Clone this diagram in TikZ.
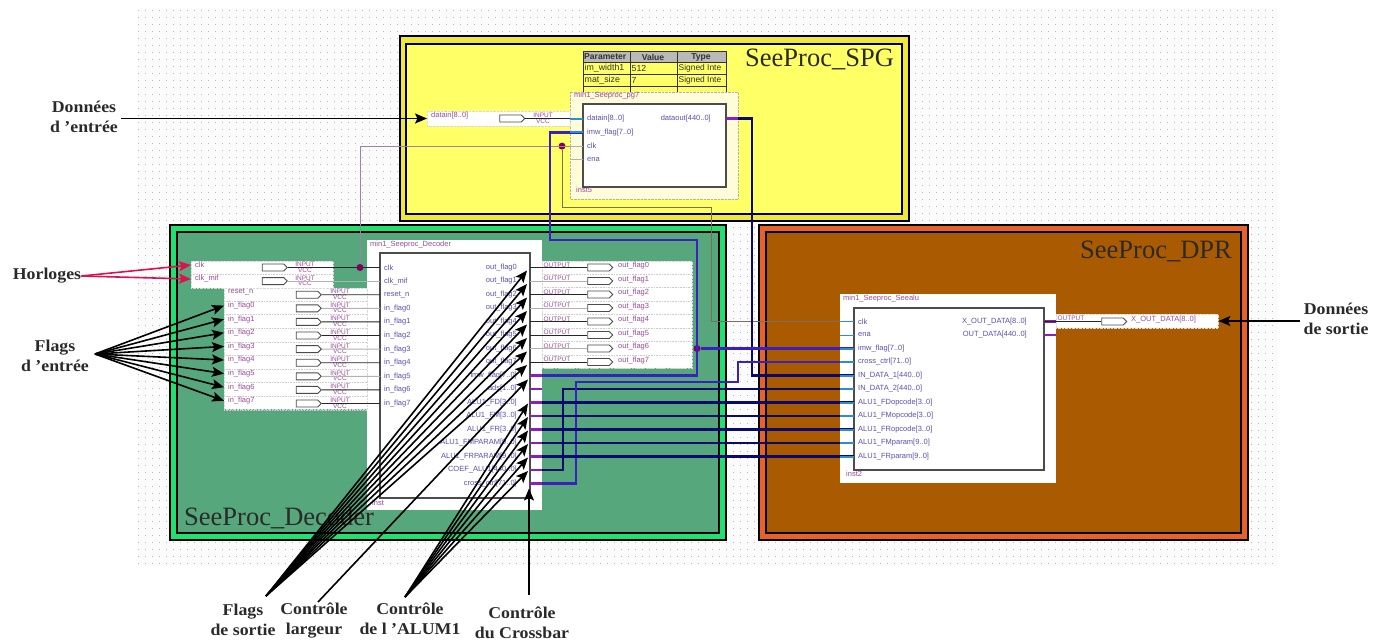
\documentclass[tikz,border=0pt]{standalone}
\usepackage{fontspec}
\setmainfont{Liberation Serif}
\newfontfamily\schfont{Liberation Sans}
\newfontfamily\notefont[FakeStretch=1.08]{Liberation Serif}
\usetikzlibrary{arrows.meta,shapes.symbols}
\definecolor{spgfill}{HTML}{FFFF66}
\definecolor{spgband}{HTML}{EFE83A}
\definecolor{decfill}{HTML}{57A77C}
\definecolor{decband}{HTML}{1FE070}
\definecolor{dprfill}{HTML}{AA5A00}
\definecolor{dprband}{HTML}{E8602A}
\definecolor{navywire}{HTML}{0A0A6E}
\definecolor{bluewire}{HTML}{3A20C0}
\definecolor{purplestub}{HTML}{8A20B8}
\definecolor{bluestub}{HTML}{2A90D0}
\definecolor{portcol}{HTML}{5A4FAF}
\definecolor{pincol}{HTML}{9A4A9A}
\definecolor{junctcol}{HTML}{800060}
\definecolor{clkcol}{HTML}{A080A8}
\definecolor{clkdown}{HTML}{7A7060}
\definecolor{notered}{HTML}{E01050}
\definecolor{notecol}{HTML}{2A2A2A}
\begin{document}
\begin{tikzpicture}[x=1pt,y=-1pt,
    frame/.style={draw=black,line width=2.7pt},
    griddots/.style={draw=gray!55,line width=1pt,dash pattern=on 1pt off 6pt},
    whitebox/.style={draw=gray!30,densely dotted,fill=white,inner sep=0pt,minimum width=#1},
    symbox/.style={draw=gray!60!black,line width=1.2pt,fill=white},
    title/.style={font=\fontsize{26.5}{28}\selectfont,text=notecol,inner sep=0pt},
    portl/.style={anchor=west,inner xsep=4pt,inner ysep=0pt,text=portcol,font=\schfont\fontsize{7.5}{8}\selectfont},
    portr/.style={anchor=east,inner ysep=0pt,text=portcol,font=\schfont\fontsize{7.5}{8}\selectfont},
    pinname/.style={anchor=west,inner xsep=4pt,inner ysep=0pt,text=pincol,font=\schfont\fontsize{7.5}{8}\selectfont},
    pintag/.style={inner sep=0pt,text=pincol,font=\schfont\fontsize{6.5}{7}\selectfont},
    pinbox/.style={shape=signal,signal to=east,draw=gray!60!black,line width=.9pt,fill=white,minimum width=25pt,minimum height=7pt,inner sep=0pt},
    darkwire/.style={draw=gray!30!black,line width=.9pt},
    lightwire/.style={draw=gray!60,line width=.9pt},
    navy/.style={draw=navywire,line width=2.6pt},
    blue/.style={draw=bluewire,line width=2.6pt},
    pstub/.style={draw=purplestub,line width=2.6pt},
    bstub/.style={draw=bluestub,line width=2pt},
    junct/.style={circle,fill=junctcol,inner sep=0pt,minimum size=7pt},
    rowsep/.style={draw=gray!40,densely dotted,line width=.6pt},
    note/.style={draw=black,line width=1.6pt,-{Stealth[length=12pt,width=10pt,inset=2.5pt]}},
    rednote/.style={draw=notered,line width=1.6pt,-{Stealth[length=12pt,width=10pt,inset=2.5pt]}},
    notetext/.style={align=center,text=notecol,inner sep=0pt,font=\notefont\bfseries\fontsize{16.5}{20}\selectfont},
    tabcell/.style={anchor=west,inner xsep=1.5pt,inner ysep=0pt,text=black!80,font=\schfont\fontsize{8.8}{9}\selectfont}]
  \useasboundingbox (0,0) rectangle (1373,641);
  \fill[gray!3] (138,8) rectangle (1278,566);
  \foreach \gy in {10,17,...,566}{\draw[griddots] (138,\gy) -- (1278,\gy);}
  % the three blocks
  \draw[frame,fill=spgband] (400,36) rectangle (909,221);
  \draw[frame,fill=spgfill] (406,44) rectangle (902,214);
  \draw[frame,fill=decband] (170,225) rectangle (726,540);
  \draw[frame,fill=decfill] (177,232) rectangle (719,533);
  \draw[frame,fill=dprband] (759,225) rectangle (1248,540);
  \draw[frame,fill=dprfill] (766,232) rectangle (1241,533);
  \node[title,anchor=west] (spgtitle) at (745,59) {SeeProc\_SPG};
  \node[title,anchor=west] (dectitle) at (184,518) {SeeProc\_Decoder};
  \node[title,anchor=west] (dprtitle) at (1080,251) {SeeProc\_DPR};
  % SPG symbol
  \fill[gray!55] (583,51) rectangle (726,62);
  \draw[gray!40!black,line width=1pt] (583,51) rectangle (726,92);
  \foreach \ty in {62,74,86}{\draw[gray!40!black,line width=1pt] (583,\ty) -- (726,\ty);}
  \foreach \tx in {630,677}{\draw[gray!40!black,line width=1pt] (\tx,51) -- (\tx,92);}
  \node[tabcell,font=\schfont\bfseries\fontsize{8.6}{9}\selectfont] (tabpar) at (582.5,57) {Parameter};
  \node[tabcell,anchor=center,font=\schfont\bfseries\fontsize{8.6}{9}\selectfont] (tabval) at (653,57) {Value};
  \node[tabcell,anchor=center,font=\schfont\bfseries\fontsize{8.6}{9}\selectfont] (tabtyp) at (701,57) {Type};
  \foreach \tname/\tval [count=\i from 0] in {im\_width1/512,mat\_size/7}{
    \node[tabcell] (tabn\i) at (583,{68.5+12*\i}) {\tname};
    \node[tabcell] (tabv\i) at (630,{68.5+12*\i}) {\tval};
    \node[tabcell,font=\schfont\fontsize{8.4}{9}\selectfont] (tabt\i) at (677,{68.5+12*\i}) {Signed Inte};
  }
  \path[draw=gray!60,densely dotted,fill=yellow!15] (570,92) rectangle (738,199);
  \draw[symbox] (583,104) rectangle (726,187);
  \node[pinname,inner xsep=0pt] (spgname) at (574,96) {min1\_Seeproc\_pg7};
  \node[pinname,inner xsep=0pt] (spginst) at (576,190) {inst5};
  \foreach \pname [count=\i from 0] in {datain[8..0],imw\_flag[7..0],clk,ena}{
    \node[portl] (spgl\i) at (583,{118.5+13.8*\i}) {\pname};
  }
  \node[portr,inner xsep=15pt] (spgout) at (726,118.5) {dataout[440..0]};
  \node[whitebox=143pt,minimum height=15pt,anchor=west] (datainbox) at (427,118.5) {};
  \node[pinname] (datainlab) at (427,116) {datain[8..0]};
  \node[pinbox] (spgpin) at (510.5,118.5) {};
  \node[pintag] (spginp) at (543,115.5) {INPUT};
  \node[pintag] (spgvcc) at (543,121) {VCC};
  % decoder symbol
  \fill[white] (367,240) rectangle (542,510);
  \draw[symbox] (380,253) rectangle (530,498);
  \node[pinname,inner xsep=0pt] (decname) at (370,245) {min1\_Seeproc\_Decoder};
  \node[pinname,inner xsep=0pt] (decinst) at (372,503) {inst};
  \foreach \pname [count=\i from 0] in {clk,clk\_mif,reset\_n,in\_flag0,in\_flag1,in\_flag2,in\_flag3,in\_flag4,in\_flag5,in\_flag6,in\_flag7}{
    \node[portl] (decl\i) at (380,{267.5+13.6*\i}) {\pname};
  }
  \foreach \pname [count=\i from 0] in {out\_flag0,out\_flag1,out\_flag2,out\_flag3,out\_flag4,out\_flag5,out\_flag6,out\_flag7,imw\_flag[7..0],ads[1..0],ALU1\_FD[3..0],ALU1\_FM[3..0],ALU1\_FR[3..0],ALU1\_FMPARAM[9..0],ALU1\_FRPARAM[9..0],COEF\_ALU1[440..0],cross\_ctrl[71..0]}{
    \node[portr,inner xsep=13pt] (decr\i) at (530,{267.5+13.5*\i}) {\pname};
  }
  % clock pins
  \node[whitebox=142pt,minimum height=27pt,anchor=north west] (clkbox) at (191,261) {};
  \draw[rowsep] (191,274.5) -- (333,274.5);
  \foreach \pname/\pwire [count=\i from 0] in {clk/darkwire,clk\_mif/lightwire}{
    \node[pinname] (clklab\i) at (191,{265+14*\i}) {\pname};
    \node[pinbox] (clkpin\i) at (273,{267.5+13.6*\i}) {};
    \node[pintag] (clkinp\i) at (305,{264.5+13.6*\i}) {INPUT};
    \node[pintag] (clkvcc\i) at (305,{270+13.6*\i}) {VCC};
    \draw[\pwire] (clkpin\i.east) -- (decl\i.west);
  }
  % flag pins
  \node[whitebox=143pt,minimum height=121pt,anchor=north west] (inbox) at (224,288) {};
  \foreach \pname/\pwire [count=\i from 0] in {reset\_n/darkwire,in\_flag0/lightwire,in\_flag1/darkwire,in\_flag2/darkwire,in\_flag3/lightwire,in\_flag4/darkwire,in\_flag5/lightwire,in\_flag6/darkwire,in\_flag7/darkwire}{
    \pgfmathtruncatemacro{\j}{\i+2}
    \node[pinname] (inlab\i) at (224,{292+13.6*\i}) {\pname};
    \node[pinbox] (inpin\i) at (307,{294.7+13.6*\i}) {};
    \node[pintag] (ininp\i) at (340,{291.5+13.6*\i}) {INPUT};
    \node[pintag] (invcc\i) at (340,{297+13.6*\i}) {VCC};
    \draw[rowsep] (224,{301+13.6*\i}) -- (367,{301+13.6*\i});
    \draw[\pwire] (inpin\i.east) -- (decl\j.west);
  }
  % output pins
  \node[whitebox=150pt,minimum height=107pt,anchor=north west] (outbox) at (542,261) {};
  \foreach \pwire [count=\i from 0] in {darkwire,lightwire,darkwire,lightwire,darkwire,darkwire,lightwire,darkwire}{
    \node[pinbox] (outpin\i) at (598.5,{267.5+13.5*\i}) {};
    \node[pintag] (outtag\i) at (557,{265+13.5*\i}) {OUTPUT};
    \node[pinname] (outlab\i) at (614,{266+13.5*\i}) {out\_flag\i};
    \draw[rowsep] (542,{274+13.5*\i}) -- (692,{274+13.5*\i});
    \draw[\pwire] (decr\i.east) -- (outpin\i.west);
  }
  % DPR symbol
  \fill[white] (840,294) rectangle (1056,483);
  \draw[symbox] (854,308) rectangle (1044,470);
  \node[pinname,inner xsep=0pt] (dprname) at (843,299) {min1\_Seeproc\_Seealu};
  \node[pinname,inner xsep=0pt] (dprinst) at (846,474) {inst2};
  \foreach \pname [count=\i from 0] in {clk,ena,imw\_flag[7..0],cross\_ctrl[71..0],IN\_DATA\_1[440..0],IN\_DATA\_2[440..0],ALU1\_FDopcode[3..0],ALU1\_FMopcode[3..0],ALU1\_FRopcode[3..0],ALU1\_FMparam[9..0],ALU1\_FRparam[9..0]}{
    \node[portl] (dprl\i) at (854,{321.5+13.5*\i}) {\pname};
  }
  \node[portr,inner xsep=17pt] (dprx) at (1044,321.5) {X\_OUT\_DATA[8..0]};
  \node[portr,inner xsep=17pt] (dprout) at (1044,335) {OUT\_DATA[440..0]};
  \node[whitebox=162pt,minimum height=14pt,anchor=west] (xoutbox) at (1056,321) {};
  \node[pinbox] (xoutpin) at (1112.5,321.5) {};
  \node[pintag] (xouttag) at (1071,318.5) {OUTPUT};
  \node[pinname] (xoutlab) at (1127,320) {X\_OUT\_DATA[8..0]};
  % wires
  \coordinate (bendspg) at (752,200);
  \coordinate (bendimwa) at (550,240);
  \coordinate (bendimwb) at (697,240);
  \coordinate (bendcoef) at (563,400);
  \coordinate (bendcra) at (576,382);
  \coordinate (bendcrb) at (738,382);
  \coordinate (bendclk) at (711,207);
  \node[junct] (jimw) at (697,348.5) {};
  \node[junct] (jclk) at (360,267.5) {};
  \node[junct] (jspg) at (562,146.1) {};
  \draw[darkwire] (spgpin.east) -- (datainbox.east);
  \draw[clkcol,line width=1pt] (jclk) |- (spgl2.west);
  \draw[clkdown,line width=1pt] (jspg) |- (bendclk) |- (dprl0.west);
  \draw[navy] (spgout.east) -| (bendspg) |- (dprl4.west);
  \draw[blue] (spgl1.west) -| (bendimwa) -- (bendimwb) |- (decr8.east);
  \draw[blue] (jimw) -- (dprl2.west);
  \draw[navy] (decr15.east) -| (bendcoef) |- (dprl5.west);
  \draw[blue] (decr16.east) -| (bendcra) -- (bendcrb) |- (dprl3.west);
  \foreach \a/\b in {10/6,11/7,12/8,13/9,14/10}{\draw[navy] (decr\a.east) -- (dprl\b.west);}
  \foreach \i in {8,...,16}{\draw[pstub] (decr\i.east) -- ++(12,0);}
  \foreach \i in {0,1}{\draw[bstub] (spgl\i.west) -- ++(-13,0);}
  \foreach \i in {2,3}{\draw[lightwire] (spgl\i.west) -- ++(-13,0);}
  \foreach \i in {0,1}{\draw[bstub,line width=1pt] (dprl\i.west) -- ++(-14,0);}
  \foreach \i in {2,...,10}{\draw[bstub] (dprl\i.west) -- ++(-14,0);}
  \draw[pstub] (spgout.east) -- ++(12,0);
  \draw[pstub] (dprx.east) -- ++(12,0);
  \draw[pstub] (dprout.east) -- ++(12,0);
  \draw[darkwire] (dprx.east) -- (xoutpin.west);
  % notes
  \node[notetext] (noteindata) at (84,117) {Données\\d ’entrée};
  \node[notetext] (noteclk) at (47,276) {Horloges};
  \node[notetext] (noteinfl) at (55,356) {Flags\\d ’entrée};
  \node[notetext] (noteoutdata) at (1336,319) {Données\\de sortie};
  \node[notetext] (noteoutfl) at (243,620) {Flags\\de sortie};
  \node[notetext] (notewidth) at (314,620) {Contrôle\\largeur};
  \node[notetext] (notealu) at (410,619) {Contrôle\\de l ’ALUM1};
  \node[notetext] (notecross) at (522,623) {Contrôle\\du Crossbar};
  \coordinate (tailin) at (95,354);
  \coordinate (tailfl) at (266,596);
  \coordinate (tailwd) at (318,602);
  \coordinate (tailalu) at (405,597);
  \coordinate (tailcr) at (529,595);
  \draw[note] (noteindata.east |- datainbox.west) ++(3,0) -- (datainbox.west);
  \draw[note] (noteoutdata.west |- xoutbox.east) ++(-3,0) -- (xoutbox.east);
  \draw[rednote] (noteclk.east) -- (clkbox.west |- clklab0);
  \draw[rednote] (noteclk.east) -- (clkbox.west |- clklab1);
  \foreach \i in {1,...,8}{\draw[note] (tailin) -- (inlab\i.west);}
  \foreach \i in {0,...,7}{\draw[note] (tailfl) -- ([shift={(-3,3)}]decr\i.east);}
  \draw[note] (tailwd) -- ([shift={(-2,4)}]decr8.east);
  \foreach \i in {10,...,15}{\draw[note] (tailalu) -- ([shift={(-2,1)}]decr\i.east);}
  \draw[note] (tailcr) -- ([shift={(-1,5)}]decr16.east);
\end{tikzpicture}
\end{document}
